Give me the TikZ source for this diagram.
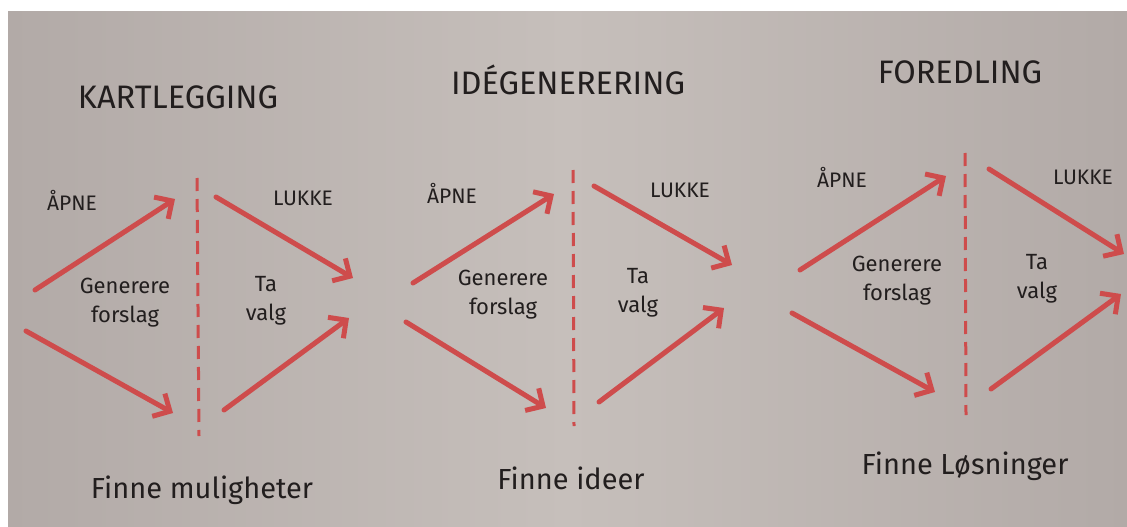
\documentclass[tikz,border=0pt]{standalone}
\usepackage{fontspec}
\setmainfont{Fira Sans}
\usetikzlibrary{arrows.meta}
\definecolor{paper}{RGB}{198,191,187}
\definecolor{paperdark}{RGB}{178,170,167}
\definecolor{ink}{RGB}{34,30,30}
\definecolor{marker}{RGB}{206,76,76}
\tikzset{
  title/.style={text=ink, font=\fontsize{32.5}{32.5}\selectfont, inner sep=0pt},
  phase/.style={text=ink, font=\fontsize{21}{21}\selectfont, inner sep=0pt},
  body/.style={text=ink, font=\fontsize{22}{29}\selectfont, align=center, inner sep=0pt},
  result/.style={text=ink, font=\fontsize{29}{29}\selectfont, inner sep=0pt},
  flow/.style={draw=marker, line width=5pt, line cap=round,
    -{Straight Barb[length=13pt,width=26pt,line width=5pt]}},
  divider/.style={draw=marker, line width=3pt, dash pattern=on 13pt off 8pt},
}
\begin{document}
\begin{tikzpicture}[x=1pt,y=-1pt]
  \useasboundingbox (0,0) rectangle (1127,527);
  % page background
  \fill[white] (0,0) rectangle (1127,527);
  \shade[left color=paperdark, right color=paperdark, middle color=paper]
    (8,12) rectangle (1127,527);

  % ---------- KARTLEGGING ----------
  \node[title]  (t1) at (178,97) {KARTLEGGING};
  \node[phase]  (o1) at (72,200) {ÅPNE};
  \node[phase]  (c1) at (303,198) {LUKKE};
  \node[body]   (g1) at (125,303) {Generere\\forslag};
  \node[body]   (v1) at (266,301) {Ta\\valg};
  \node[result] (r1) at (202,490) {Finne muligheter};
  \coordinate (a1s) at (35,290);  \coordinate (a1e) at (175,199);
  \coordinate (b1s) at (26,331);  \coordinate (b1e) at (173,413);
  \coordinate (c1s) at (216,197); \coordinate (c1e) at (353,278);
  \coordinate (d1s) at (224,410); \coordinate (d1e) at (349,318);
  \coordinate (l1t) at (197,178); \coordinate (l1b) at (199,436);
  \draw[flow] (a1s) -- (a1e);
  \draw[flow] (b1s) -- (b1e);
  \draw[flow] (c1s) -- (c1e);
  \draw[flow] (d1s) -- (d1e);
  \draw[divider] (l1t) -- (l1b);

  % ---------- IDÉGENERERING ----------
  \node[title]  (t2) at (568,80) {IDÉGENERERING};
  \node[phase]  (o2) at (452,193) {ÅPNE};
  \node[phase]  (c2) at (680,190) {LUKKE};
  \node[body]   (g2) at (503,295) {Generere\\forslag};
  \node[body]   (v2) at (638,293) {Ta\\valg};
  \node[result] (r2) at (571,478) {Finne ideer};
  \coordinate (a2s) at (413,283); \coordinate (a2e) at (554,194);
  \coordinate (b2s) at (406,322); \coordinate (b2e) at (546,408);
  \coordinate (c2s) at (594,186); \coordinate (c2e) at (732,265);
  \coordinate (d2s) at (599,402); \coordinate (d2e) at (724,308);
  \coordinate (l2t) at (573,170); \coordinate (l2b) at (574,426);
  \draw[flow] (a2s) -- (a2e);
  \draw[flow] (b2s) -- (b2e);
  \draw[flow] (c2s) -- (c2e);
  \draw[flow] (d2s) -- (d2e);
  \draw[divider] (l2t) -- (l2b);

  % ---------- FOREDLING ----------
  \node[title]  (t3) at (960,72) {FOREDLING};
  \node[phase]  (o3) at (842,177) {ÅPNE};
  \node[phase]  (c3) at (1083,177) {LUKKE};
  \node[body]   (g3) at (897,281) {Generere\\forslag};
  \node[body]   (v3) at (1037,279) {Ta\\valg};
  \node[result] (r3) at (965,466) {Finne Løsninger};
  \coordinate (a3s) at (800,270); \coordinate (a3e) at (946,176);
  \coordinate (b3s) at (792,313); \coordinate (b3e) at (935,392);
  \coordinate (c3s) at (989,169); \coordinate (c3e) at (1124,254);
  \coordinate (d3s) at (991,389); \coordinate (d3e) at (1121,294);
  \coordinate (l3t) at (965,153); \coordinate (l3b) at (966,415);
  \draw[flow] (a3s) -- (a3e);
  \draw[flow] (b3s) -- (b3e);
  \draw[flow] (c3s) -- (c3e);
  \draw[flow] (d3s) -- (d3e);
  \draw[divider] (l3t) -- (l3b);
\end{tikzpicture}
\end{document}
